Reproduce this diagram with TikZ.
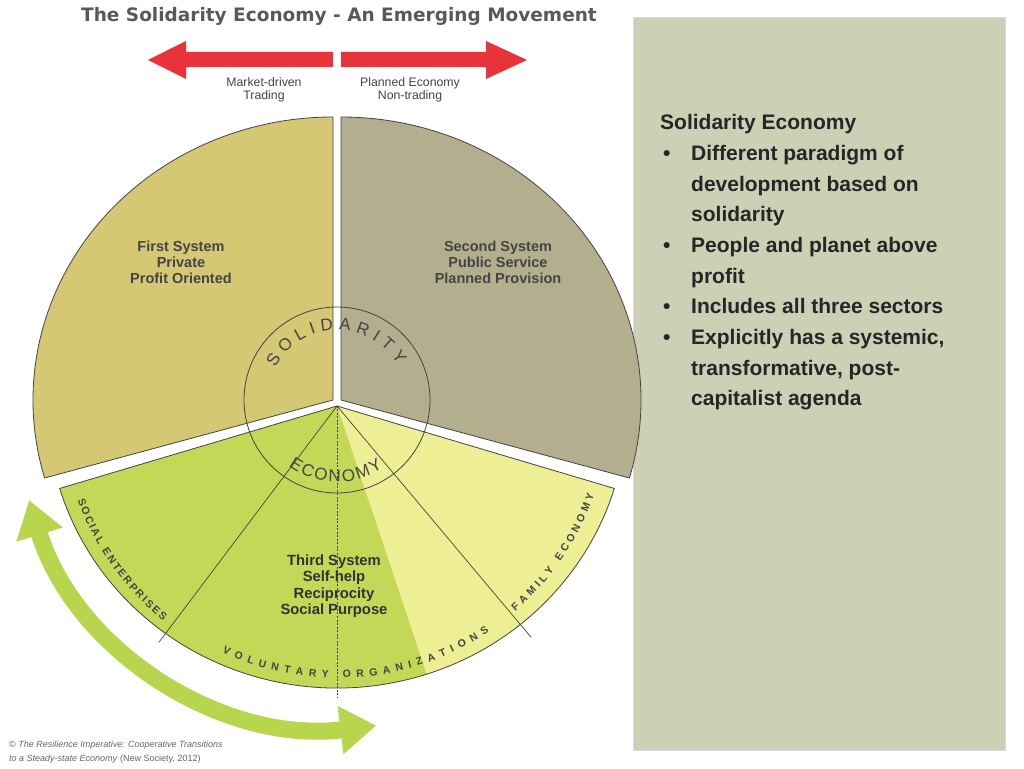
\documentclass[tikz,border=0pt]{standalone}
\usepackage{fontspec}
\setmainfont{Liberation Sans}
\newfontfamily\titlefont{DejaVu Sans}
\usetikzlibrary{arrows.meta,decorations.text}
\definecolor{secA}{HTML}{D4C874}
\definecolor{secB}{HTML}{B3AF8E}
\definecolor{secG}{HTML}{C4D857}
\definecolor{secL}{HTML}{EEEE94}
\definecolor{panel}{HTML}{CDD0B4}
\definecolor{redarr}{HTML}{E8333A}
\definecolor{greenarr}{HTML}{B8D54E}
\definecolor{ink}{HTML}{444444}
\tikzset{
  outline/.style={draw=ink,line width=0.8pt},
  seclabel/.style={font=\fontsize{14.5}{16}\selectfont\bfseries,text=ink,align=center},
  smalllabel/.style={font=\fontsize{12.3}{13.5}\selectfont,text=ink,align=center},
  redshape/.style={fill=redarr,draw=none},
}
\begin{document}
\begin{tikzpicture}[x=1pt,y=1pt]
\fill[white] (0,0) rectangle (1024,768);
\useasboundingbox (0,0) rectangle (1024,768);
% panel
\filldraw[fill=panel,draw=black!15] (633,18) rectangle (1005,751);
\node[anchor=north west,inner sep=0pt,text=black!85,font=\fontsize{21}{30.7}\selectfont\bfseries] (paneltext) at (660,660) {%
\renewcommand\arraystretch{1.0}%
\begin{tabular}{@{}p{31pt}@{}l@{}}
\multicolumn{2}{@{}l}{Solidarity Economy}\\
\hspace{3pt}\textbullet & Different paradigm of\\
 & development based on\\
 & solidarity\\
\hspace{3pt}\textbullet & People and planet above\\
 & profit\\
\hspace{3pt}\textbullet & Includes all three sectors\\
\hspace{3pt}\textbullet & Explicitly has a systemic,\\
 & transformative, post-\\
 & capitalist agenda
\end{tabular}};
% title
\node[font=\titlefont\fontsize{18.5}{20}\selectfont\bfseries,text=black!65] (title) at (339,752) {The Solidarity Economy - An Emerging Movement};
% red arrows
\path[redshape] (333,701) -- (186,701) -- (186,689) -- (148,708) -- (186,727) -- (186,716) -- (333,716) -- cycle;
\path[redshape] (341,701) -- (486,701) -- (486,689) -- (527,708) -- (486,727) -- (486,716) -- (341,716) -- cycle;
\node[smalllabel] (mkt) at (264,678) {Market-driven\\Trading};
\node[smalllabel] (plan) at (410,678) {Planned Economy\\Non-trading};
% sectors
\coordinate (v1) at (333,368);
\coordinate (v2) at (341,368);
\coordinate (v3) at (337,362);
\coordinate (cc) at (337,368);
\filldraw[fill=secA,outline] (v1) -- ++(196:300pt and 283pt) arc[start angle=196,end angle=90,x radius=300pt,y radius=283pt] -- cycle;
\filldraw[fill=secB,outline] (v2) -- ++(90:300pt and 283pt) arc[start angle=90,end angle=-16,x radius=300pt,y radius=283pt] -- cycle;
\fill[secL] (v3) -- ++(197:290pt and 282pt) arc[start angle=197,end angle=343,x radius=290pt,y radius=282pt] -- cycle;
\fill[secG] (v3) -- ++(197:290pt and 282pt) arc[start angle=197,end angle=288,x radius=290pt,y radius=282pt] -- cycle;
\draw[outline] (v3) -- ++(197:290pt and 282pt) arc[start angle=197,end angle=343,x radius=290pt,y radius=282pt] -- cycle;
\draw[ink,line width=0.7pt] (v3) -- ([shift={(233:296pt)}]v3) coordinate (e1);
\draw[ink,line width=0.7pt] (v3) -- ([shift={(310:302pt)}]v3) coordinate (e2);
\draw[ink,line width=0.7pt,dash pattern=on 2pt off 1.5pt] (v3) -- ([shift={(270:292pt)}]v3) coordinate (e3);
% inner circle
\draw[ink,line width=0.8pt] (cc) circle[radius=93pt];
\path[decorate,decoration={text along path,text align={fit to path},text color=ink,
  text={|\fontsize{17}{17}\selectfont|SOLIDARITY}}]
  ([shift={(152:70pt)}]cc) arc[start angle=152,end angle=30,radius=70pt];
\path[decorate,decoration={text along path,text align={fit to path},text color=ink,
  text={|\fontsize{17}{17}\selectfont|ECONOMY}}]
  ([shift={(234:82pt)}]cc) arc[start angle=234,end angle=304,radius=82pt];
% outer sector-3 labels
\path[decorate,decoration={text along path,text align={fit to path},text color=ink,
  text={|\fontsize{10.5}{11}\selectfont\bfseries|SOCIAL ENTERPRISES}}]
  ([shift={(200:276pt)}]v3) arc[start angle=200,end angle=231,radius=276pt];
\path[decorate,decoration={text along path,text align={fit to path},text color=ink,
  text={|\fontsize{10.5}{11}\selectfont\bfseries|VOLUNTARY ORGANIZATIONS}}]
  ([shift={(245:272pt)}]v3) arc[start angle=245,end angle=304,radius=272pt];
\path[decorate,decoration={text along path,text align={fit to path},text color=ink,
  text={|\fontsize{10.5}{11}\selectfont\bfseries|FAMILY ECONOMY}}]
  ([shift={(311:272pt)}]v3) arc[start angle=311,end angle=341,radius=272pt];
% sector labels
\node[seclabel] (s1) at (181,506) {First System\\Private\\Profit Oriented};
\node[seclabel] (s2) at (498,506) {Second System\\Public Service\\Planned Provision};
\node[seclabel,text=black!80,font=\fontsize{14.8}{16.5}\selectfont\bfseries] (s3) at (334,182) {Third System\\Self-help\\Reciprocity\\Social Purpose};
% green double arrow
\draw[greenarr,line width=17pt,{Triangle[width=46pt,length=36pt]}-{Triangle[width=46pt,length=36pt]}]
  ([shift={(197:322pt)}]v3) arc[start angle=197,end angle=277,radius=322pt];
% copyright
\node[anchor=west,font=\fontsize{9}{14}\selectfont,text=black!60,align=left,inner sep=0pt] (copy) at (9,16)
 {\copyright\ \textit{The Resilience Imperative: Cooperative Transitions}\\\textit{to a Steady-state Economy} (New Society, 2012)};
\end{tikzpicture}
\end{document}
